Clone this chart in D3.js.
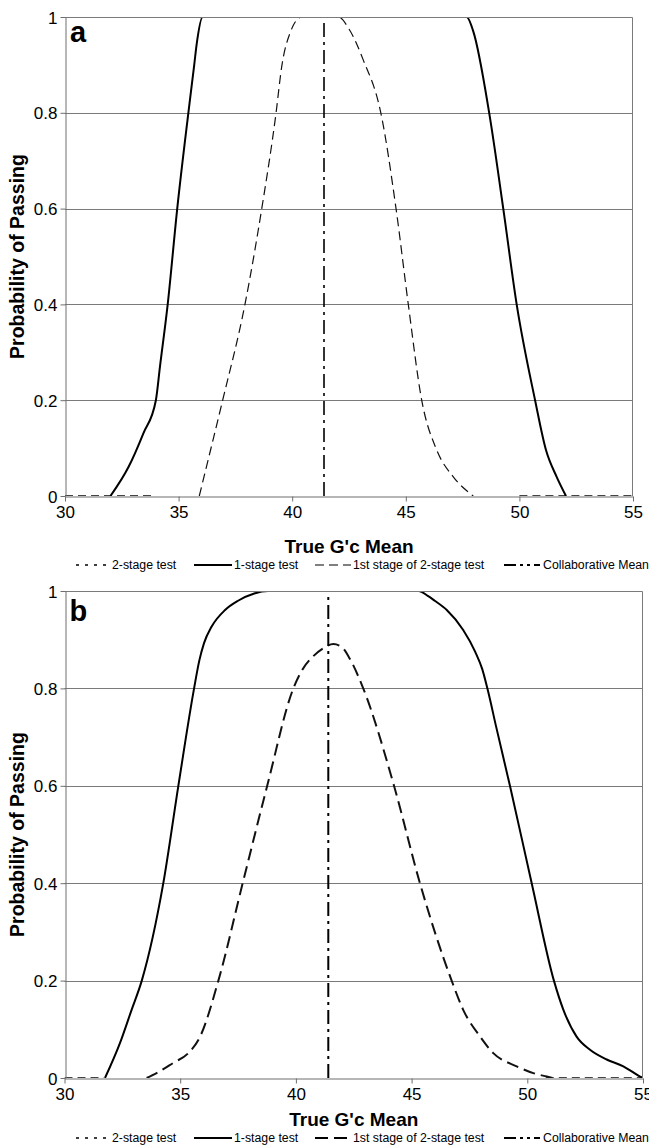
<!DOCTYPE html>
<html>
<head>
<meta charset="utf-8">
<script src="https://cdn.jsdelivr.net/npm/d3@7/dist/d3.min.js"></script>
<style>
  html, body { margin: 0; padding: 0; background: #fff; }
  svg { display: block; font-family: 'Liberation Sans', Arial, sans-serif; }
</style>
</head>
<body>
<div id="chart"></div>
<script>
// axis ticks and labels
const xTicks = [30, 35, 40, 45, 50, 55]
const yTicks = [0, 0.2, 0.4, 0.6, 0.8, 1]
const legendLabels = ['2-stage test', '1-stage test', '1st stage of 2-stage test', 'Collaborative Mean']
const collabMean = 41.4

// panel a
const oneStageAx = [32.0, 32.8, 33.45, 34.0, 34.18, 34.52, 34.94, 35.43, 35.68, 35.8, 36.06, 47.68, 47.97, 48.67, 49.29, 49.88, 50.69, 51.17, 51.64, 52.05]
const oneStageAp = [0, 0.061, 0.131, 0.2, 0.27, 0.4, 0.6, 0.8, 0.897, 0.945, 1, 1, 0.97, 0.8, 0.6, 0.4, 0.2, 0.096, 0.04, 0]
const firstStageAx = [35.91, 36.53, 36.94, 37.92, 38.66, 39.29, 39.54, 39.9, 40.42, 42.03, 42.5, 43.13, 43.9, 44.57, 45.11, 45.7, 46.36, 47.09, 47.97]
const firstStageAp = [0, 0.12, 0.2, 0.4, 0.6, 0.8, 0.897, 0.966, 1, 1, 0.975, 0.91, 0.8, 0.6, 0.4, 0.2, 0.096, 0.04, 0]
const twoStageAx = [30, 34, null, 37.8, 47.7, null, 50, 55]
const twoStageAp = [0, 0, null, 1, 1, null, 0, 0]

// panel b
const oneStageBx = [31.75, 32.4, 32.9, 33.34, 34.27, 34.92, 35.6, 35.83, 36.03, 36.36, 36.94, 37.5, 38.2, 38.8, 45.3, 45.7, 46.0, 46.52, 47.23, 47.75, 48.05, 48.3, 48.65, 49.25, 50.19, 51.15, 51.56, 52.13, 52.71, 53.43, 54.15, 54.8, 55]
const oneStageBp = [0, 0.072, 0.14, 0.2, 0.4, 0.6, 0.8, 0.858, 0.893, 0.927, 0.961, 0.98, 0.995, 1, 1, 0.99, 0.98, 0.961, 0.92, 0.875, 0.84, 0.795, 0.722, 0.6, 0.4, 0.2, 0.14, 0.085, 0.058, 0.038, 0.024, 0.005, 0]
const firstStageBx = [33.55, 33.98, 34.7, 35.35, 35.86, 36.65, 37.7, 38.76, 39.89, 40.3, 40.75, 41.2, 41.62, 42.0, 42.34, 42.91, 44.24, 45.36, 46.73, 47.23, 47.96, 48.53, 49.54, 50.26, 50.84, 51.1]
const firstStageBp = [0, 0.01, 0.031, 0.051, 0.085, 0.2, 0.4, 0.6, 0.8, 0.84, 0.866, 0.883, 0.891, 0.884, 0.86, 0.8, 0.6, 0.4, 0.2, 0.14, 0.085, 0.051, 0.024, 0.01, 0.003, 0]
const twoStageBx = [30, 31.7, null, 38.8, 45.3, null, 50.8, 55]
const twoStageBp = [0, 0, null, 1, 1, null, 0, 0]

const W = 649
const H = 1146

const svg = d3.select('#chart').append('svg')
  .attr('width', W)
  .attr('height', H)

const zip = (xs, ps) => xs.map((x, i) => [x, ps[i]])

function drawPanel ({ id, letter, box, oneStage, firstStage, twoStage, styles, labelY }) {
  const x = d3.scaleLinear().domain([30, 55]).range([box.left, box.right])
  const y = d3.scaleLinear().domain([0, 1]).range([box.bottom, box.top])
  const g = svg.append('g')

  svg.append('clipPath').attr('id', 'clip-' + id)
    .append('rect')
    .attr('x', box.left).attr('y', box.top)
    .attr('width', box.right - box.left).attr('height', box.bottom - box.top)

  // gridlines
  g.append('g').selectAll('line')
    .data(yTicks.filter(d => d > 0 && d < 1))
    .join('line')
    .attr('x1', box.left).attr('x2', box.right)
    .attr('y1', d => Math.round(y(d)) + 0.5).attr('y2', d => Math.round(y(d)) + 0.5)
    .attr('stroke', '#7a7a7a').attr('stroke-width', 1)

  const line = d3.line()
    .defined(d => d[0] !== null)
    .x(d => x(d[0])).y(d => y(d[1]))
    .curve(d3.curveMonotoneX)

  const plot = g.append('g').attr('clip-path', `url(#clip-${id})`)

  plot.append('path').datum(zip(twoStage[0], twoStage[1]))
    .attr('d', line).attr('fill', 'none')
    .attr('stroke', '#444').attr('stroke-width', 2).attr('stroke-dasharray', styles.two)

  plot.append('path').datum(zip(firstStage[0], firstStage[1]))
    .attr('d', line).attr('fill', 'none')
    .attr('stroke', '#111').attr('stroke-width', styles.firstWidth).attr('stroke-dasharray', styles.first)

  plot.append('path').datum(zip(oneStage[0], oneStage[1]))
    .attr('d', line).attr('fill', 'none')
    .attr('stroke', '#000').attr('stroke-width', styles.oneWidth)

  plot.append('line')
    .attr('x1', x(collabMean)).attr('x2', x(collabMean))
    .attr('y1', y(0)).attr('y2', y(1))
    .attr('stroke', '#000').attr('stroke-width', styles.meanWidth)
    .attr('stroke-dasharray', styles.mean)

  // plot border (top and right)
  g.append('path')
    .attr('d', `M${box.left},${box.top + 0.5}H${box.right - 0.5}V${box.bottom}`)
    .attr('fill', 'none').attr('stroke', '#7a7a7a')

  // axes
  const xAxis = d3.axisBottom(x).tickValues(xTicks).tickSize(5).tickSizeOuter(0).tickPadding(3)
  const gx = g.append('g').attr('transform', `translate(0,${Math.round(box.bottom) + 0.5})`).call(xAxis)
  const yAxis = d3.axisLeft(y).tickValues(yTicks).tickFormat(d3.format('')).tickSize(5).tickSizeOuter(0).tickPadding(3)
  const gy = g.append('g').attr('transform', `translate(${Math.round(box.left) + 0.5},0)`).call(yAxis)
  for (const ax of [gx, gy]) {
    ax.select('.domain').attr('stroke', '#6e6e6e')
    ax.selectAll('.tick line').attr('stroke', '#6e6e6e')
    ax.selectAll('.tick text')
      .attr('fill', '#000')
      .style('font-family', "'Liberation Sans', Arial, sans-serif")
      .style('font-size', '17px')
  }
  gy.selectAll('.tick text').attr('dy', '0.36em')
  gx.selectAll('.tick text').attr('dy', '0.8em')

  // panel letter
  g.append('text')
    .attr('x', box.left + 5).attr('y', box.top + labelY.letter)
    .attr('font-size', 29).attr('font-weight', 'bold')
    .text(letter)

  // axis titles
  g.append('text')
    .attr('x', (box.left + box.right) / 2).attr('y', box.bottom + labelY.xTitle)
    .attr('text-anchor', 'middle')
    .attr('font-size', 19).attr('font-weight', 'bold')
    .text("True G'c Mean")

  g.append('text')
    .attr('transform', `translate(24,${(box.top + box.bottom) / 2}) rotate(-90)`)
    .attr('text-anchor', 'middle')
    .attr('font-size', 19.5).attr('font-weight', 'bold')
    .text('Probability of Passing')

  // legend
  const ly = box.bottom + labelY.legend
  const items = [
    { x1: 76, x2: 106, tx: 112, dash: '3,6', width: 1.5 },
    { x1: 194, x2: 232, tx: 234, dash: null, width: 2 },
    { x1: 315, x2: 351, tx: 353, dash: styles.firstLegend, width: styles.firstWidth },
    { x1: 504, x2: 540, tx: 543, dash: '12,4,3,4,3,4', width: 2 }
  ]
  const lg = g.append('g')
  lg.selectAll('line')
    .data(items)
    .join('line')
    .attr('x1', d => d.x1).attr('x2', d => d.x2)
    .attr('y1', ly - 4).attr('y2', ly - 4)
    .attr('stroke', '#000')
    .attr('stroke-width', d => d.width)
    .attr('stroke-dasharray', d => d.dash)
  lg.selectAll('text')
    .data(items)
    .join('text')
    .attr('x', d => d.tx).attr('y', ly)
    .attr('font-size', 12.3)
    .text((d, i) => legendLabels[i])
}

drawPanel({
  id: 'a',
  letter: 'a',
  box: { left: 65, right: 633, top: 17, bottom: 496 },
  oneStage: [oneStageAx, oneStageAp],
  firstStage: [firstStageAx, firstStageAp],
  twoStage: [twoStageAx, twoStageAp],
  styles: { oneWidth: 2, firstWidth: 1.2, first: '9,5', firstLegend: '9,5', two: '8,5', mean: '14,5,3,5', meanWidth: 1.6 },
  labelY: { letter: 25, xTitle: 57, legend: 73 }
})

drawPanel({
  id: 'b',
  letter: 'b',
  box: { left: 64.5, right: 643, top: 591, bottom: 1078 },
  oneStage: [oneStageBx, oneStageBp],
  firstStage: [firstStageBx, firstStageBp],
  twoStage: [twoStageBx, twoStageBp],
  styles: { oneWidth: 2, firstWidth: 2, first: '12,6', firstLegend: '13,6', two: '8,5', mean: '14,5,3,5', meanWidth: 2 },
  labelY: { letter: 30, xTitle: 48, legend: 64 }
})
</script>
</body>
</html>
